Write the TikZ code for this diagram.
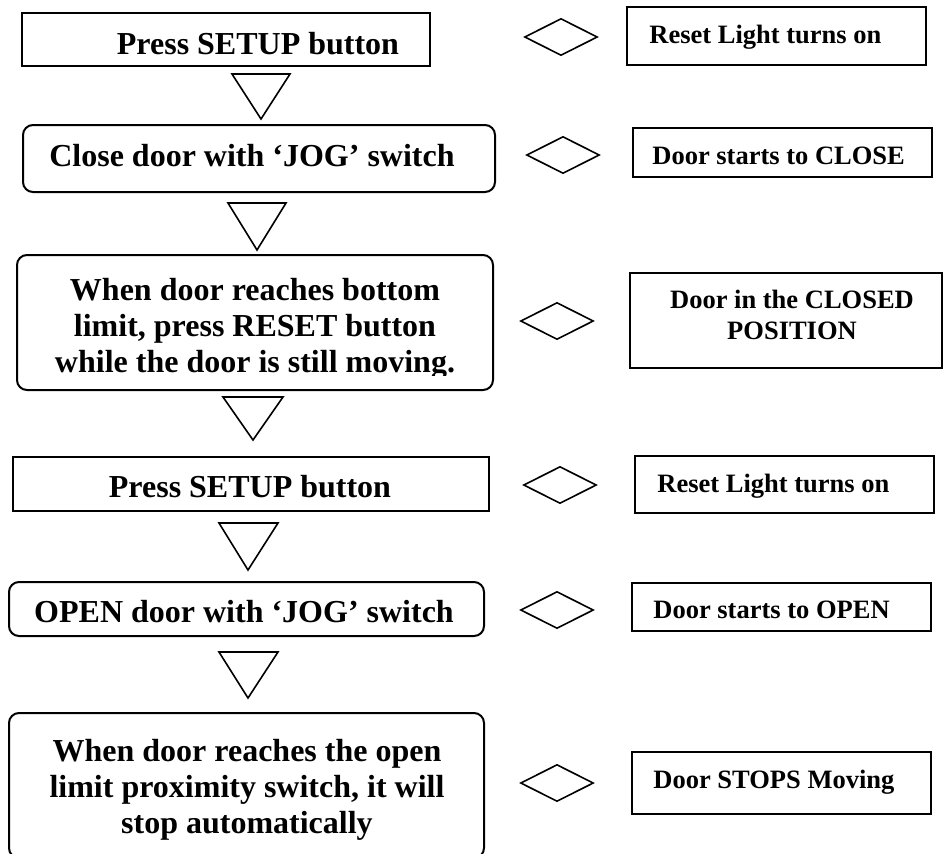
\documentclass[tikz,border=0pt]{standalone}
\usepackage{fontspec}
\setmainfont{Liberation Serif}
\usetikzlibrary{shapes.geometric}

\begin{document}
\begin{tikzpicture}[x=0.5pt,y=0.5pt,
  frame/.style={draw=black,line width=1pt,rectangle},
  roundframe/.style={frame,rounded corners=5pt},
  sidediamond/.style={draw=black,diamond,line width=0.8pt,minimum width=36.5pt,minimum height=18.5pt},
  maintext/.style={font=\fontsize{16}{18}\selectfont\bfseries,align=center},
  sidetext/.style={font=\fontsize{13.25}{15.5}\selectfont\bfseries,align=center},
  arrowtri/.style={draw=black,line width=0.8pt,line join=miter}]
\tikzstyle{every node}+=[inner sep=0pt]
\useasboundingbox (0,0) rectangle (943,-853);
% left column: the steps
\node[frame,minimum width=204pt,minimum height=26.5pt] (step1) at (226,-39.5) {};
\node[maintext,anchor=base] (step1txt) at (258,-54) {Press SETUP button};
\node[roundframe,minimum width=236pt,minimum height=33.5pt] (step2) at (259,-158.5) {};
\node[maintext,anchor=base] (step2txt) at (252,-166) {Close door with ‘JOG’ switch};
\node[roundframe,minimum width=238pt,minimum height=67.5pt] (step3) at (255,-322.5) {};
\begin{scope}
\clip (0,-250) rectangle (943,-375);
\node[maintext,anchor=base] (step3txt) at (255,-372) {When door reaches bottom\\limit, press RESET button\\while the door is still moving.};
\end{scope}
\node[frame,minimum width=238pt,minimum height=27pt] (step4) at (251,-484) {};
\node[maintext,anchor=base] (step4txt) at (250,-497) {Press SETUP button};
\node[roundframe,minimum width=237.5pt,minimum height=27pt] (step5) at (246.5,-609) {};
\node[maintext,anchor=base] (step5txt) at (244,-622) {OPEN door with ‘JOG’ switch};
\node[roundframe,minimum width=237.5pt,minimum height=72.5pt] (step6) at (246.5,-785.5) {};
\node[maintext,anchor=base] (step6txt) at (247,-833) {When door reaches the open\\limit proximity switch, it will\\stop automatically};
% triangles between the steps
\draw[arrowtri] (232,-74) -- (290,-74) -- (261,-119) -- cycle;
\draw[arrowtri] (228,-203) -- (286,-203) -- (257,-250) -- cycle;
\draw[arrowtri] (223,-397) -- (283,-397) -- (253,-440) -- cycle;
\draw[arrowtri] (219,-523) -- (278,-523) -- (248,-570) -- cycle;
\draw[arrowtri] (219,-652) -- (278,-652) -- (248,-698) -- cycle;
% diamonds
\node[sidediamond] (dia1) at (561,-37) {};
\node[sidediamond] (dia2) at (563,-155) {};
\node[sidediamond] (dia3) at (557,-321) {};
\node[sidediamond] (dia4) at (560,-485) {};
\node[sidediamond] (dia5) at (557,-610) {};
\node[sidediamond] (dia6) at (557,-783) {};
% right column: what the door does
\node[frame,minimum width=149.5pt,minimum height=29pt] (res1) at (776.5,-36) {};
\node[sidetext,anchor=base west] (res1txt) at (649,-43) {Reset Light turns on};
\node[frame,minimum width=149.5pt,minimum height=24.5pt] (res2) at (782.5,-152.5) {};
\node[sidetext,anchor=base west] (res2txt) at (652,-164) {Door starts to CLOSE};
\node[frame,minimum width=156pt,minimum height=47.5pt] (res3) at (786,-320.5) {};
\node[sidetext,anchor=base] (res3txt) at (792,-339) {Door in the CLOSED\\POSITION};
\node[frame,minimum width=149.5pt,minimum height=28.5pt] (res4) at (784.5,-484.5) {};
\node[sidetext,anchor=base west] (res4txt) at (657,-492) {Reset Light turns on};
\node[frame,minimum width=149.5pt,minimum height=24pt] (res5) at (781.5,-607) {};
\node[sidetext,anchor=base west] (res5txt) at (653,-618) {Door starts to OPEN};
\node[frame,minimum width=149.5pt,minimum height=31pt] (res6) at (781.5,-783) {};
\node[sidetext,anchor=base west] (res6txt) at (653,-788) {Door STOPS Moving};
\end{tikzpicture}
\end{document}
